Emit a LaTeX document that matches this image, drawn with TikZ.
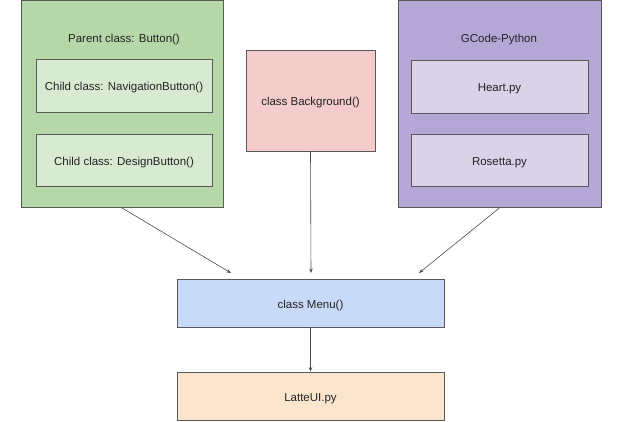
\documentclass[tikz,border=0pt]{standalone}
\usepackage{fontspec}
\setmainfont{Liberation Sans}
\usetikzlibrary{arrows.meta}
\definecolor{gOut}{HTML}{B6D7A8}
\definecolor{gIn}{HTML}{D9EAD3}
\definecolor{pk}{HTML}{F4CCCC}
\definecolor{pOut}{HTML}{B4A7D6}
\definecolor{pIn}{HTML}{D9D2E9}
\definecolor{bl}{HTML}{C9DAF8}
\definecolor{org}{HTML}{FCE5CD}
\definecolor{edge}{HTML}{595959}
\definecolor{txt}{HTML}{222222}
\tikzset{
  box/.style={draw=edge, line width=0.8pt, rectangle, inner sep=0pt, font=\fontsize{11.5}{13}\selectfont, text=txt, text height=10pt, text depth=0pt},
  lbl/.style={inner sep=0pt, font=\fontsize{11.5}{13}\selectfont, text=txt, text height=10pt, text depth=0pt},
  conn/.style={draw=edge!85!black, line width=0.6pt, -{Stealth[length=4.5pt,width=3.5pt]}}
}
\begin{document}
\begin{tikzpicture}[x=1pt,y=-1pt]
\useasboundingbox (0,0) rectangle (622,421);
% green group
\node[box, fill=gOut, minimum width=202pt, minimum height=207pt] (btn) at (122,104) {};
\node[lbl] (btnl) at (124,37.5) {Parent class: Button()};
\node[box, fill=gIn, minimum width=176pt, minimum height=53pt] (nav) at (124,85.5) {Child class: NavigationButton()};
\node[box, fill=gIn, minimum width=176pt, minimum height=52pt] (des) at (124,160) {Child class: DesignButton()};
% pink
\node[box, fill=pk, minimum width=129pt, minimum height=101pt] (bg) at (310.5,100.5) {class Background()};
% purple group
\node[box, fill=pOut, minimum width=203pt, minimum height=207pt] (gc) at (499.5,104) {};
\node[lbl] (gcl) at (499,37.5) {GCode-Python};
\node[box, fill=pIn, minimum width=177pt, minimum height=53pt] (heart) at (499.5,86.5) {Heart.py};
\node[box, fill=pIn, minimum width=177pt, minimum height=52pt] (ros) at (499.5,160) {Rosetta.py};
% menu and latte
\node[box, fill=bl, minimum width=267pt, minimum height=48pt] (menu) at (310.5,303) {class Menu()};
\node[box, fill=org, minimum width=267pt, minimum height=48pt] (latte) at (310.5,396) {LatteUI.py};
% arrow ends
\coordinate (e1) at (231,273);
\coordinate (e2) at (311,273);
\coordinate (e3) at (419,273);
\draw[conn] (btn.south) -- (e1);
\draw[conn] (bg.south) -- (e2);
\draw[conn] (gc.south) -- (e3);
\draw[conn] (menu.south) -- (latte.north);
\end{tikzpicture}
\end{document}
